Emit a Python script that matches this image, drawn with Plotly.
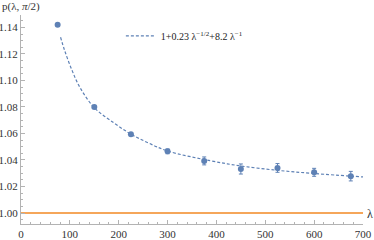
import plotly.graph_objects as go

lam = [75, 150, 225, 300, 375, 450, 525, 600, 675]
p_vals = [1.142, 1.080, 1.0595, 1.0465, 1.0393, 1.0332, 1.0340, 1.0307, 1.0278]
p_err = [0.0, 0.0008, 0.0012, 0.0018, 0.0030, 0.0038, 0.0033, 0.0030, 0.0036]

fit_lam = [81, 89, 104, 121, 150, 190, 225, 260, 300, 387, 450, 525, 600, 700]
fit_p = [1.1326, 1.123, 1.108, 1.0945, 1.0795, 1.068, 1.0595, 1.053, 1.0468,
         1.0395, 1.0355, 1.0322, 1.0298, 1.0272]

ref_lam = [0, 700]
ref_p = [1.0, 1.0]

blue = "#5E81B5"
orange = "#F5A65A"
axcol = "#B3B3B3"
font = "Liberation Serif"
tcol = "#333333"

fig = go.Figure()
fig.add_trace(go.Scatter(x=ref_lam, y=ref_p, mode="lines",
                         line=dict(color=orange, width=2), showlegend=False))
fig.add_trace(go.Scatter(x=fit_lam, y=fit_p, mode="lines", line_shape="spline",
                         line=dict(color=blue, width=1.2, dash="3px,2px"),
                         name="1+0.23 λ<sup>−1/2</sup>+8.2 λ<sup>−1</sup>"))
fig.add_trace(go.Scatter(x=lam, y=p_vals, mode="markers",
                         marker=dict(color=blue, size=6),
                         error_y=dict(type="data", array=p_err, color=blue,
                                      thickness=1, width=2),
                         showlegend=False))

fig.update_layout(
    width=374, height=240,
    margin=dict(l=21, r=11, t=15, b=16),
    paper_bgcolor="white", plot_bgcolor="white",
    font=dict(family=font, size=11, color=tcol),
    showlegend=True,
    legend=dict(x=0.292, y=0.90, xanchor="left", yanchor="middle",
                bgcolor="rgba(0,0,0,0)", font=dict(family=font, size=10, color="#222222"),
                itemwidth=30),
    xaxis=dict(range=[0, 700], showgrid=False, zeroline=False, automargin=False,
               showline=True, linecolor=axcol, linewidth=1,
               ticks="inside", ticklen=4, tickcolor=axcol, dtick=100,
               minor=dict(ticks="inside", ticklen=2, dtick=20, tickcolor=axcol),
               tickfont=dict(family=font, size=11, color=tcol)),
    yaxis=dict(range=[0.9917, 1.1494], showgrid=False, zeroline=False, automargin=False,
               showline=True, linecolor=axcol, linewidth=1,
               ticks="inside", ticklen=4, tickcolor=axcol, dtick=0.02,
               tickformat=".2f",
               minor=dict(ticks="inside", ticklen=2, dtick=0.005, tickcolor=axcol),
               tickfont=dict(family=font, size=11, color=tcol)),
)
fig.add_annotation(text="p(λ, <i>π</i>/2)", xref="paper", yref="paper",
                   x=0, y=1.0, xanchor="left", yanchor="bottom",
                   showarrow=False, xshift=-21, yshift=0,
                   font=dict(family=font, size=11, color=tcol))
fig.add_annotation(text="λ", xref="paper", yref="paper",
                   x=1.0, y=0.0, xanchor="left", yanchor="bottom",
                   showarrow=False, xshift=2, yshift=1,
                   font=dict(family=font, size=12, color=tcol))
fig.write_html("out.html", config={"displayModeBar": False},
               post_script="document.body.style.margin='0';document.body.style.padding='0';")
